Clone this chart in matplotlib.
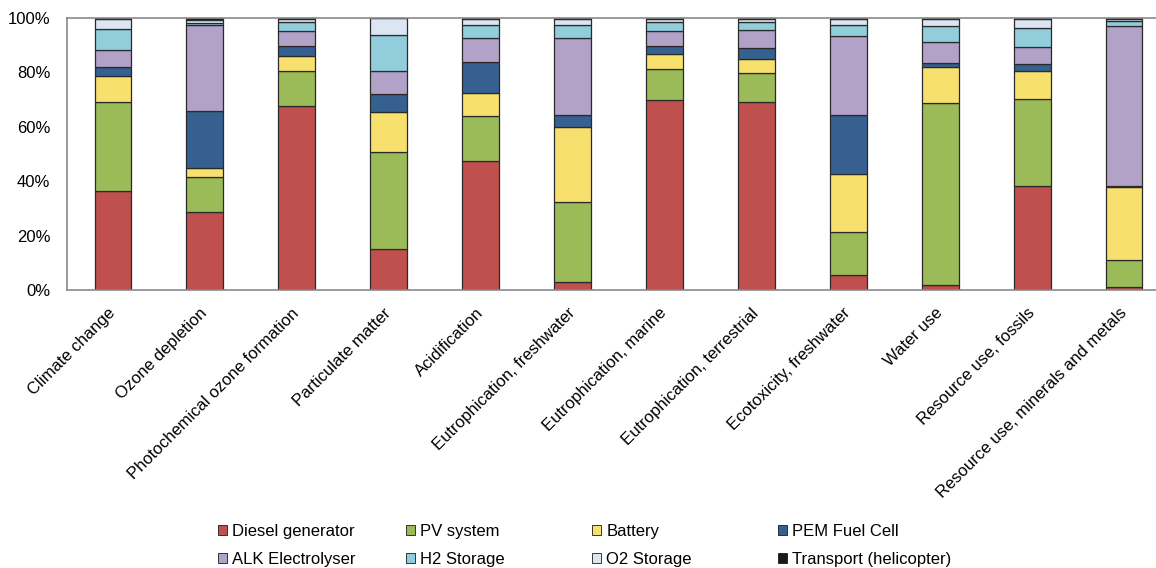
import numpy as np
import matplotlib.pyplot as plt
from matplotlib.patches import Patch
from matplotlib.ticker import PercentFormatter

plt.rcParams['font.family'] = ['Liberation Sans', 'DejaVu Sans']

# Impact categories
categories = [
    'Climate change', 'Ozone depletion', 'Photochemical ozone formation',
    'Particulate matter', 'Acidification', 'Eutrophication, freshwater',
    'Eutrophication, marine', 'Eutrophication, terrestrial',
    'Ecotoxicity, freshwater', 'Water use', 'Resource use, fossils',
    'Resource use, minerals and metals',
]

# Contribution of each component (%)
diesel = [36.4, 28.6, 67.8, 15.0, 47.4, 2.8, 69.9, 69.3, 5.5, 1.8, 38.2, 1.0]
pv = [32.7, 13.1, 12.8, 35.9, 16.6, 29.6, 11.5, 10.5, 15.8, 67.0, 32.2, 10.0]
battery = [9.7, 3.1, 5.3, 14.5, 8.6, 27.6, 5.2, 5.1, 21.4, 13.3, 10.1, 26.7]
pem = [3.2, 21.1, 3.7, 6.6, 11.1, 4.3, 3.1, 4.2, 21.6, 1.4, 2.7, 0.6]
alk = [6.1, 31.6, 5.5, 8.5, 8.8, 28.2, 5.7, 6.5, 29.2, 7.8, 6.1, 58.9]
h2 = [7.9, 0.8, 3.3, 13.1, 5.0, 5.1, 3.2, 2.9, 4.1, 5.8, 7.0, 1.8]
o2 = [3.7, 0.8, 1.3, 6.4, 2.3, 2.2, 1.2, 1.3, 2.1, 2.7, 3.2, 0.6]
transport = [0.3, 0.9, 0.3, 0.0, 0.2, 0.2, 0.2, 0.2, 0.3, 0.2, 0.5, 0.4]

series = [diesel, pv, battery, pem, alk, h2, o2, transport]
labels = ['Diesel generator', 'PV system', 'Battery', 'PEM Fuel Cell',
          'ALK Electrolyser', 'H2 Storage', 'O2 Storage', 'Transport (helicopter)']
colors = ['#C0504D', '#9BBB59', '#F7E06E', '#35608F',
          '#B2A2C8', '#92CDDC', '#DCE6F2', '#1A1A1A']

fig = plt.figure(figsize=(11.56, 5.68), dpi=100)
ax = fig.add_axes([67 / 1156, 278 / 568, 1103 / 1156, 272 / 568])

x = np.arange(len(categories))
bottom = np.zeros(len(categories))
for vals, lab, col in zip(series, labels, colors):
    vals = np.array(vals)
    ax.bar(x, vals, 0.4, bottom=bottom, color=col, edgecolor='#2a2a2a',
           linewidth=0.9, label=lab)
    bottom += vals

ax.set_xlim(-0.5, 11.5)
ax.set_ylim(0, 100)
ax.set_yticks([0, 20, 40, 60, 80, 100])
ax.yaxis.set_major_formatter(PercentFormatter(decimals=0))
ax.tick_params(axis='y', length=0, labelsize=12, pad=12)
ax.tick_params(axis='x', length=0, pad=15)
ax.set_xticks(x)
ax.set_xticklabels(categories, rotation=45, ha='right', va='center',
                   rotation_mode='anchor', fontsize=12)
for s in ax.spines.values():
    s.set_color('#8a8a8a')
    s.set_linewidth(1.2)

# legend: 4 evenly spaced columns, two rows (Excel style)
col_x = [218, 406, 592, 778]
for i, cx in enumerate(col_x):
    idx = [i, i + 4]
    hs = [Patch(facecolor=colors[j], edgecolor='#1a1a1a', linewidth=0.6) for j in idx]
    leg = fig.legend(hs, [labels[j] for j in idx], loc='upper left',
                     bbox_to_anchor=(cx / 1156, 1 - 524 / 568), frameon=False,
                     fontsize=12, handlelength=0.55, handleheight=0.55,
                     handletextpad=0.3, labelspacing=0.8,
                     borderpad=0, borderaxespad=0)

fig.savefig('out.png', dpi=100)
